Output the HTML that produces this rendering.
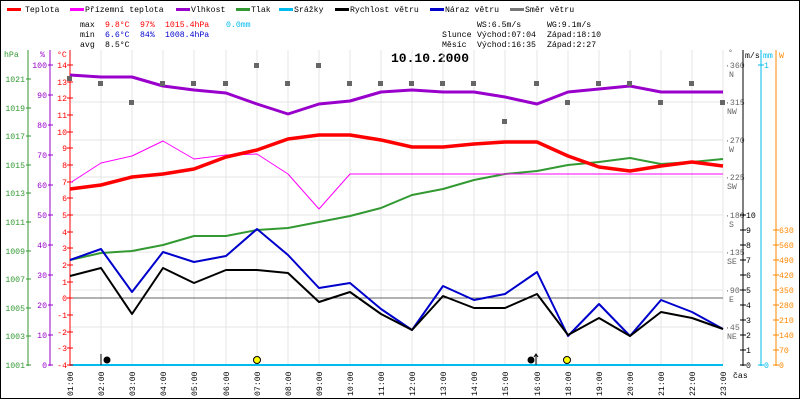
<!DOCTYPE html>
<html><head><meta charset="utf-8"><style>
body{margin:0;background:#fff;}
svg{display:block;font-family:"Liberation Mono",monospace;font-size:8.2px;}
</style></head><body>
<svg width="800" height="400" xmlns="http://www.w3.org/2000/svg">
<rect x="0.5" y="0.5" width="799" height="398" fill="#fff" stroke="#000"/>
<!-- legend -->
<g>
<rect x="7" y="8" width="14" height="3" fill="#f00"/><text x="25" y="12">Teplota</text>
<rect x="70" y="8" width="14" height="3" fill="#f0f"/><text x="85" y="12">Přízemní teplota</text>
<rect x="176" y="8" width="14" height="3" fill="#90c"/><text x="191" y="12">Vlhkost</text>
<rect x="236" y="8" width="14" height="3" fill="#393"/><text x="251" y="12">Tlak</text>
<rect x="279" y="8" width="14" height="3" fill="#0be"/><text x="294" y="12">Srážky</text>
<rect x="335" y="8" width="14" height="3" fill="#000"/><text x="350" y="12">Rychlost větru</text>
<rect x="430" y="8" width="14" height="3" fill="#00c"/><text x="445" y="12">Náraz větru</text>
<rect x="510" y="8" width="14" height="3" fill="#777"/><text x="525" y="12">Směr větru</text>
</g>
<g>
<text x="80" y="27">max</text><text x="105" y="27" fill="#f00">9.8°C</text><text x="140" y="27" fill="#f00">97%</text><text x="165" y="27" fill="#f00">1015.4hPa</text><text x="226" y="27" fill="#0be">0.0mm</text>
<text x="80" y="37">min</text><text x="105" y="37" fill="#00c">6.6°C</text><text x="140" y="37" fill="#00c">84%</text><text x="165" y="37" fill="#00c">1008.4hPa</text>
<text x="80" y="47">avg</text><text x="105" y="47">8.5°C</text>
<text x="477" y="27">WS:6.5m/s</text><text x="547" y="27">WG:9.1m/s</text>
<text x="442" y="37">Slunce</text><text x="477" y="37">Východ:07:04</text><text x="547" y="37">Západ:18:10</text>
<text x="442" y="47">Měsíc</text><text x="477" y="47">Východ:16:35</text><text x="547" y="47">Západ:2:27</text>
</g>
<text x="430" y="62" font-size="13" font-weight="bold" text-anchor="middle">10.10.2000</text>
<!-- grid -->
<g stroke="#e4e4e4" stroke-width="1">
<line x1="70" y1="102" x2="723" y2="102"/><line x1="70" y1="140" x2="723" y2="140"/><line x1="70" y1="177" x2="723" y2="177"/><line x1="70" y1="215" x2="723" y2="215"/><line x1="70" y1="252" x2="723" y2="252"/><line x1="70" y1="290" x2="723" y2="290"/><line x1="70" y1="327" x2="723" y2="327"/>
<line x1="101" y1="50" x2="101" y2="365"/><line x1="132" y1="50" x2="132" y2="365"/><line x1="163" y1="50" x2="163" y2="365"/><line x1="194" y1="50" x2="194" y2="365"/><line x1="226" y1="50" x2="226" y2="365"/><line x1="257" y1="50" x2="257" y2="365"/><line x1="288" y1="50" x2="288" y2="365"/><line x1="319" y1="50" x2="319" y2="365"/><line x1="350" y1="50" x2="350" y2="365"/><line x1="381" y1="50" x2="381" y2="365"/><line x1="412" y1="50" x2="412" y2="365"/><line x1="443" y1="50" x2="443" y2="365"/><line x1="474" y1="50" x2="474" y2="365"/><line x1="505" y1="50" x2="505" y2="365"/><line x1="537" y1="50" x2="537" y2="365"/><line x1="568" y1="50" x2="568" y2="365"/><line x1="599" y1="50" x2="599" y2="365"/><line x1="630" y1="50" x2="630" y2="365"/><line x1="661" y1="50" x2="661" y2="365"/><line x1="692" y1="50" x2="692" y2="365"/><line x1="723" y1="50" x2="723" y2="365"/>
</g>
<line x1="70" y1="298" x2="723" y2="298" stroke="#666"/>
<line x1="70" y1="365" x2="723" y2="365" stroke="#0be" stroke-width="2"/>
<!-- left axes -->
<line x1="28" y1="50" x2="28" y2="366" stroke="#393"/>
<text x="4" y="57" fill="#393">hPa</text>
<g fill="#393" text-anchor="end">
<text x="25" y="368">1001</text><text x="25" y="339">1003</text><text x="25" y="311">1005</text><text x="25" y="282">1007</text><text x="25" y="254">1009</text><text x="25" y="225">1011</text><text x="25" y="196">1013</text><text x="25" y="168">1015</text><text x="25" y="139">1017</text><text x="25" y="111">1019</text><text x="25" y="82">1021</text>
</g>
<g stroke="#393"><line x1="26" y1="365" x2="31" y2="365"/><line x1="26" y1="336" x2="31" y2="336"/><line x1="26" y1="308" x2="31" y2="308"/><line x1="26" y1="279" x2="31" y2="279"/><line x1="26" y1="251" x2="31" y2="251"/><line x1="26" y1="222" x2="31" y2="222"/><line x1="26" y1="193" x2="31" y2="193"/><line x1="26" y1="165" x2="31" y2="165"/><line x1="26" y1="136" x2="31" y2="136"/><line x1="26" y1="108" x2="31" y2="108"/><line x1="26" y1="79" x2="31" y2="79"/></g>
<line x1="50" y1="50" x2="50" y2="366" stroke="#90c"/>
<text x="40" y="57" fill="#90c">%</text>
<g fill="#90c" text-anchor="end">
<text x="47" y="368">0</text><text x="47" y="338">10</text><text x="47" y="308">20</text><text x="47" y="278">30</text><text x="47" y="248">40</text><text x="47" y="218">50</text><text x="47" y="188">60</text><text x="47" y="158">70</text><text x="47" y="128">80</text><text x="47" y="98">90</text><text x="47" y="68">100</text>
</g>
<g stroke="#90c"><line x1="48" y1="365" x2="53" y2="365"/><line x1="48" y1="335" x2="53" y2="335"/><line x1="48" y1="305" x2="53" y2="305"/><line x1="48" y1="275" x2="53" y2="275"/><line x1="48" y1="245" x2="53" y2="245"/><line x1="48" y1="215" x2="53" y2="215"/><line x1="48" y1="185" x2="53" y2="185"/><line x1="48" y1="155" x2="53" y2="155"/><line x1="48" y1="125" x2="53" y2="125"/><line x1="48" y1="95" x2="53" y2="95"/><line x1="48" y1="65" x2="53" y2="65"/></g>
<line x1="70" y1="50" x2="70" y2="366" stroke="#f00"/>
<text x="57" y="57" fill="#f00">°C</text>
<g fill="#f00" text-anchor="end">
<text x="67" y="368">-4</text><text x="67" y="351">-3</text><text x="67" y="335">-2</text><text x="67" y="318">-1</text><text x="67" y="301">0</text><text x="67" y="285">1</text><text x="67" y="268">2</text><text x="67" y="251">3</text><text x="67" y="235">4</text><text x="67" y="218">5</text><text x="67" y="201">6</text><text x="67" y="185">7</text><text x="67" y="168">8</text><text x="67" y="151">9</text><text x="67" y="135">10</text><text x="67" y="118">11</text><text x="67" y="101">12</text><text x="67" y="85">13</text><text x="67" y="68">14</text>
</g>
<g stroke="#f00"><line x1="67" y1="365" x2="73" y2="365"/><line x1="67" y1="348" x2="73" y2="348"/><line x1="67" y1="332" x2="73" y2="332"/><line x1="67" y1="315" x2="73" y2="315"/><line x1="67" y1="298" x2="73" y2="298"/><line x1="67" y1="282" x2="73" y2="282"/><line x1="67" y1="265" x2="73" y2="265"/><line x1="67" y1="248" x2="73" y2="248"/><line x1="67" y1="232" x2="73" y2="232"/><line x1="67" y1="215" x2="73" y2="215"/><line x1="67" y1="198" x2="73" y2="198"/><line x1="67" y1="182" x2="73" y2="182"/><line x1="67" y1="165" x2="73" y2="165"/><line x1="67" y1="148" x2="73" y2="148"/><line x1="67" y1="132" x2="73" y2="132"/><line x1="67" y1="115" x2="73" y2="115"/><line x1="67" y1="98" x2="73" y2="98"/><line x1="67" y1="82" x2="73" y2="82"/><line x1="67" y1="65" x2="73" y2="65"/></g>
<!-- right axes -->
<g fill="#666">
<text x="728" y="55">°</text>
<text x="725" y="68">·360</text><text x="729" y="77">N</text>
<text x="725" y="105">·315</text><text x="727" y="114">NW</text>
<text x="725" y="143">·270</text><text x="729" y="152">W</text>
<text x="725" y="180">·225</text><text x="727" y="189">SW</text>
<text x="725" y="218">·180</text><text x="729" y="227">S</text>
<text x="725" y="255">·135</text><text x="727" y="264">SE</text>
<text x="725" y="293">·90</text><text x="729" y="302">E</text>
<text x="725" y="330">·45</text><text x="727" y="339">NE</text>
</g>
<line x1="743" y1="50" x2="743" y2="366" stroke="#000"/>
<text x="745" y="58">m/s</text>
<g><text x="746" y="368">0</text><text x="746" y="353">1</text><text x="746" y="338">2</text><text x="746" y="323">3</text><text x="746" y="308">4</text><text x="746" y="293">5</text><text x="746" y="278">6</text><text x="746" y="263">7</text><text x="746" y="248">8</text><text x="746" y="233">9</text><text x="746" y="218">10</text></g>
<g stroke="#000"><line x1="740" y1="365" x2="746" y2="365"/><line x1="740" y1="350" x2="746" y2="350"/><line x1="740" y1="335" x2="746" y2="335"/><line x1="740" y1="320" x2="746" y2="320"/><line x1="740" y1="305" x2="746" y2="305"/><line x1="740" y1="290" x2="746" y2="290"/><line x1="740" y1="275" x2="746" y2="275"/><line x1="740" y1="260" x2="746" y2="260"/><line x1="740" y1="245" x2="746" y2="245"/><line x1="740" y1="230" x2="746" y2="230"/><line x1="740" y1="215" x2="746" y2="215"/></g>
<line x1="761" y1="50" x2="761" y2="366" stroke="#0be"/>
<text x="763" y="58" fill="#0be">mm</text>
<text x="764" y="68" fill="#0be">1</text><text x="764" y="368" fill="#0be">0</text>
<g stroke="#0be"><line x1="758" y1="65" x2="764" y2="65"/><line x1="758" y1="365" x2="764" y2="365"/></g>
<line x1="776" y1="50" x2="776" y2="366" stroke="#f80"/>
<text x="779" y="58" fill="#f80">W</text>
<g fill="#f80"><text x="779" y="368">0</text><text x="779" y="353">70</text><text x="779" y="338">140</text><text x="779" y="323">210</text><text x="779" y="308">280</text><text x="779" y="293">350</text><text x="779" y="278">420</text><text x="779" y="263">490</text><text x="779" y="248">560</text><text x="779" y="233">630</text></g>
<g stroke="#f80"><line x1="773" y1="365" x2="779" y2="365"/><line x1="773" y1="350" x2="779" y2="350"/><line x1="773" y1="335" x2="779" y2="335"/><line x1="773" y1="320" x2="779" y2="320"/><line x1="773" y1="305" x2="779" y2="305"/><line x1="773" y1="290" x2="779" y2="290"/><line x1="773" y1="275" x2="779" y2="275"/><line x1="773" y1="260" x2="779" y2="260"/><line x1="773" y1="245" x2="779" y2="245"/><line x1="773" y1="230" x2="779" y2="230"/></g>
<text x="733" y="378">čas</text>
<!-- series -->
<g fill="none" stroke-linejoin="round">
<polyline stroke="#393" stroke-width="2" points="70,260 101,253 132,251 163,245 194,236 226,236 257,230 288,228 319,222 350,216 381,208 412,195 443,189 474,180 505,174 537,171 568,165 599,162 630,158 661,164 692,162 723,159"/>
<polyline stroke="#90c" stroke-width="3" points="70,75 101,77 132,77 163,86 194,90 226,93 257,104 288,114 319,104 350,101 381,92 412,90 443,92 474,92 505,97 537,104 568,92 599,89 630,86 661,92 692,92 723,92"/>
<polyline stroke="#f0f" stroke-width="1" points="70,183 101,163 132,156 163,141 194,159 226,155 257,154 288,174 319,209 350,174 723,174"/>
<polyline stroke="#f00" stroke-width="3.5" points="70,189 101,185 132,177 163,174 194,169 226,157 257,150 288,139 319,135 350,135 381,140 412,147 443,147 474,144 505,142 537,142 568,156 599,167 630,171 661,166 692,162 723,166"/>
<polyline stroke="#00c" stroke-width="2" points="70,260 101,249 132,292 163,252 194,262 226,256 257,229 288,255 319,288 350,283 381,309 412,330 443,286 474,300 505,294 537,272 568,336 599,304 630,336 661,300 692,312 723,329"/>
<polyline stroke="#000" stroke-width="2" points="70,276 101,268 132,314 163,268 194,283 226,270 257,270 288,273 319,302 350,292 381,314 412,330 443,296 474,308 505,308 537,294 568,335 599,318 630,336 661,312 692,318 723,329"/>
</g>
<g fill="#666">
<rect x="67" y="76" width="5" height="5"/><rect x="98" y="81" width="5" height="5"/><rect x="129" y="100" width="5" height="5"/><rect x="160" y="81" width="5" height="5"/><rect x="191" y="81" width="5" height="5"/><rect x="223" y="81" width="5" height="5"/><rect x="254" y="63" width="5" height="5"/><rect x="285" y="81" width="5" height="5"/><rect x="316" y="63" width="5" height="5"/><rect x="347" y="81" width="5" height="5"/><rect x="378" y="81" width="5" height="5"/><rect x="409" y="81" width="5" height="5"/><rect x="440" y="81" width="5" height="5"/><rect x="471" y="81" width="5" height="5"/><rect x="502" y="119" width="5" height="5"/><rect x="534" y="81" width="5" height="5"/><rect x="565" y="100" width="5" height="5"/><rect x="596" y="81" width="5" height="5"/><rect x="627" y="81" width="5" height="5"/><rect x="658" y="100" width="5" height="5"/><rect x="689" y="81" width="5" height="5"/><rect x="720" y="100" width="5" height="5"/>
</g>
<!-- icons -->
<line x1="101" y1="354" x2="101" y2="365" stroke="#000"/><circle cx="107" cy="360" r="3.5" fill="#000"/>
<circle cx="257" cy="360" r="3.5" fill="#ff0" stroke="#000"/>
<circle cx="567" cy="360" r="3.5" fill="#ff0" stroke="#000"/>
<circle cx="531" cy="360" r="3.5" fill="#000"/><line x1="536" y1="355" x2="536" y2="365" stroke="#000"/><path d="M534,357 L536,354 L538,357" fill="none" stroke="#000"/>
<!-- time labels -->
<g>
<text transform="translate(73,396) rotate(-90)">01:00</text><text transform="translate(104,396) rotate(-90)">02:00</text><text transform="translate(135,396) rotate(-90)">03:00</text><text transform="translate(166,396) rotate(-90)">04:00</text><text transform="translate(197,396) rotate(-90)">05:00</text><text transform="translate(229,396) rotate(-90)">06:00</text><text transform="translate(260,396) rotate(-90)">07:00</text><text transform="translate(291,396) rotate(-90)">08:00</text><text transform="translate(322,396) rotate(-90)">09:00</text><text transform="translate(353,396) rotate(-90)">10:00</text><text transform="translate(384,396) rotate(-90)">11:00</text><text transform="translate(415,396) rotate(-90)">12:00</text><text transform="translate(446,396) rotate(-90)">13:00</text><text transform="translate(477,396) rotate(-90)">14:00</text><text transform="translate(508,396) rotate(-90)">15:00</text><text transform="translate(540,396) rotate(-90)">16:00</text><text transform="translate(571,396) rotate(-90)">18:00</text><text transform="translate(602,396) rotate(-90)">19:00</text><text transform="translate(633,396) rotate(-90)">20:00</text><text transform="translate(664,396) rotate(-90)">21:00</text><text transform="translate(695,396) rotate(-90)">22:00</text><text transform="translate(726,396) rotate(-90)">23:00</text>
</g>
</svg>
</body></html>
